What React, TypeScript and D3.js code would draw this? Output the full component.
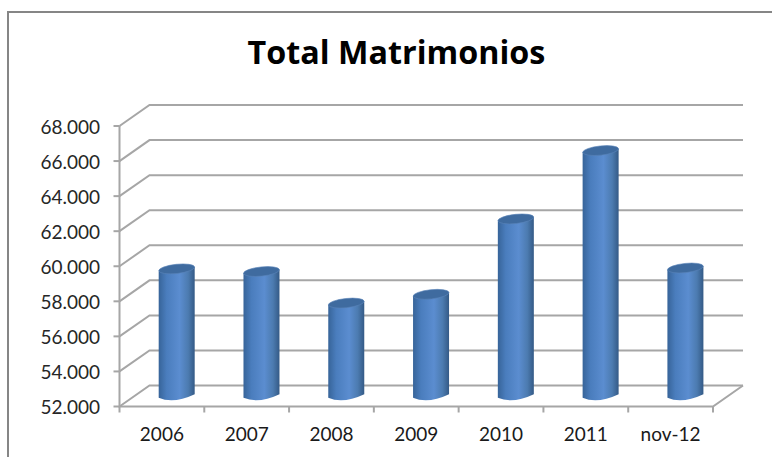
import React from "react";
import * as d3 from "d3";

const categories = ["2006", "2007", "2008", "2009", "2010", "2011", "nov-12"];
const totals = [59250, 59100, 57300, 57800, 62100, 66000, 59300];
const tickValues = [52000, 54000, 56000, 58000, 60000, 62000, 64000, 66000, 68000];
const chartTitle = "Total Matrimonios";

const WIDTH = 772;
const HEIGHT = 457;
const DEPTH_X = 30;
const DEPTH_Y = 21;
const FONT = "Lato, 'Open Sans', sans-serif";
const TITLE_FONT = "'Open Sans', Lato, sans-serif";
const GRID = "#a6a6a6";

const y = d3.scaleLinear().domain([52000, 68000]).range([406.5, 126]);
const x = d3.scaleBand<string>().domain(categories).range([119.5, 713]);
const formatTick = (v: number) => d3.format(",")(v).replace(",", ".");

function Cylinder({ name, value }: { name: string; value: number }) {
  const cx = (x(name) as number) + x.bandwidth() / 2 + DEPTH_X / 2 - 0.2;
  const rx = 18;
  const ry = 4.6;
  const top = y(value) - DEPTH_Y / 2;
  const bottom = y(52000) - DEPTH_Y / 2;
  const slope = -1.8;
  const body = d3.path();
  body.moveTo(cx - rx, top - slope);
  body.lineTo(cx - rx, bottom - slope);
  body.quadraticCurveTo(cx - 3, bottom + ry * 2 - 1, cx + rx, bottom + slope);
  body.lineTo(cx + rx, top + slope);
  body.closePath();
  return (
    <g>
      <path d={body.toString()} fill="url(#cylinderShade)" />
      <ellipse
        cx={cx}
        cy={top}
        rx={rx}
        ry={ry}
        transform={`rotate(-6 ${cx} ${top})`}
        fill="#3f6b9f"
        stroke="#5a84b8"
        strokeWidth={0.6}
      />
    </g>
  );
}

export default function App() {
  const frontLeft = x.range()[0];
  const frontRight = x.range()[1];
  const floor = y(52000);
  return (
    <svg
      width={WIDTH}
      height={HEIGHT}
      viewBox={`0 0 ${WIDTH} ${HEIGHT}`}
      style={{ position: "absolute", left: 0, top: 0, background: "#fff" }}
    >
      <defs>
        <linearGradient id="cylinderShade" x1="0" x2="1" y1="0" y2="0">
          <stop offset="0" stopColor="#376499" />
          <stop offset="0.22" stopColor="#4a7dbd" />
          <stop offset="0.58" stopColor="#5b8dd0" />
          <stop offset="0.82" stopColor="#4c7bb0" />
          <stop offset="1" stopColor="#345a86" />
        </linearGradient>
      </defs>

      <path d={`M8 ${HEIGHT} V12 H${WIDTH}`} fill="none" stroke="#868686" strokeWidth={2} />

      <text
        x={396.5}
        y={63.5}
        textAnchor="middle"
        fontFamily={TITLE_FONT}
        fontWeight={700}
        fontSize={32.3}
        fill="#000"
      >
        {chartTitle}
      </text>

      {tickValues.map((t) => (
        <g key={t}>
          <path
            d={`M${frontLeft} ${y(t)} L${frontLeft + DEPTH_X} ${y(t) - DEPTH_Y} H${frontRight + DEPTH_X}`}
            fill="none"
            stroke={GRID}
            strokeWidth={2}
          />
          <line x1={frontLeft - 6} x2={frontLeft} y1={y(t)} y2={y(t)} stroke={GRID} strokeWidth={2} />
          <text
            x={frontLeft - 19.5}
            y={y(t) + 7.5}
            textAnchor="end"
            fontFamily={FONT}
            fontSize={19}
            fill="#262626"
          >
            {formatTick(t)}
          </text>
        </g>
      ))}

      <path
        d={`M${frontLeft} ${y(68000)} V${floor} H${frontRight} L${frontRight + DEPTH_X} ${floor - DEPTH_Y}`}
        fill="none"
        stroke={GRID}
        strokeWidth={2}
      />

      {categories.map((c) => (
        <line
          key={c}
          x1={(x(c) as number) + x.bandwidth()}
          x2={(x(c) as number) + x.bandwidth()}
          y1={floor}
          y2={floor + 6}
          stroke={GRID}
          strokeWidth={2}
        />
      ))}
      <line x1={frontLeft} x2={frontLeft} y1={floor} y2={floor + 6} stroke={GRID} strokeWidth={2} />

      {categories.map((c, i) => (
        <Cylinder key={c} name={c} value={totals[i]} />
      ))}

      {categories.map((c) => (
        <text
          key={c}
          x={(x(c) as number) + x.bandwidth() / 2}
          y={441}
          textAnchor="middle"
          fontFamily={FONT}
          fontSize={19}
          fill="#1a1a1a"
        >
          {c}
        </text>
      ))}
    </svg>
  );
}
